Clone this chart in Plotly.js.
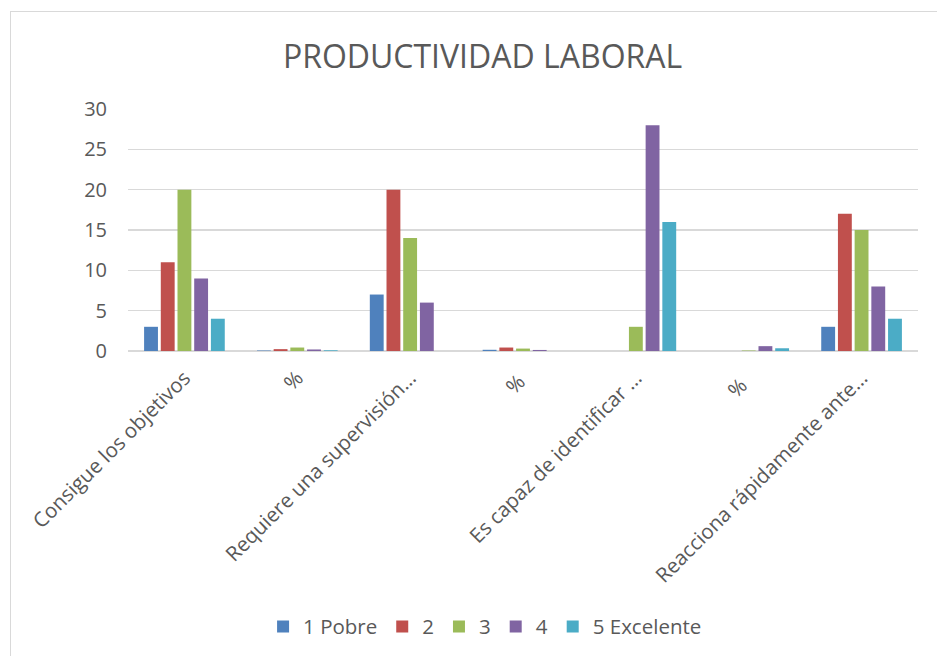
<!DOCTYPE html>
<html>
<head>
<meta charset="utf-8">
<script src="https://cdn.plot.ly/plotly-3.0.1.min.js"></script>
<style>
  html, body { margin: 0; padding: 0; background: #ffffff; overflow: hidden; }
  #chart { position: absolute; left: 0; top: 0; width: 937px; height: 656px; }
  #frame { position: absolute; left: 10px; top: 11px; width: 940px; height: 660px;
           border: 1.5px solid #d9d9d9; pointer-events: none; box-sizing: border-box; }
</style>
</head>
<body>
<div id="chart"></div>
<div id="frame"></div>
<script>
// Survey categories (the "%" rows hold each answer's share of the 47 responses)
const categories = [
  "Consigue los objetivos",
  "%",
  "Requiere una supervisión…",
  "% ",
  "Es capaz de identificar …",
  "%  ",
  "Reacciona rápidamente ante…"
];

const seriesNames = ["1 Pobre", "2", "3", "4", "5 Excelente"];

const pobre     = [3,  0.06, 7,  0.15, 0,  0,    3];
const dos       = [11, 0.23, 20, 0.43, 0,  0,    17];
const tres      = [20, 0.43, 14, 0.30, 3,  0.06, 15];
const cuatro    = [9,  0.19, 6,  0.13, 28, 0.60, 8];
const excelente = [4,  0.09, 0,  0,    16, 0.34, 4];

const seriesValues = [pobre, dos, tres, cuatro, excelente];
const colors = ["#4F81BD", "#C0504D", "#9BBB59", "#8064A2", "#4BACC6"];

const textColor = "#595959";
const fontFamily = "'Open Sans', 'Liberation Sans', sans-serif";

const traces = seriesValues.map((vals, i) => ({
  type: "bar",
  name: seriesNames[i],
  x: categories,
  y: vals,
  marker: { color: colors[i], line: { width: 0 } },
  hoverinfo: "x+y+name"
}));

const layout = {
  width: 937,
  height: 656,
  paper_bgcolor: "#ffffff",
  plot_bgcolor: "#ffffff",
  margin: { l: 128, r: 19, t: 109, b: 304 },
  barmode: "group",
  bargap: 0.26,
  bargroupgap: 0.17,
  title: {
    text: "PRODUCTIVIDAD LABORAL",
    font: { family: fontFamily, size: 32, color: textColor },
    x: 0.515,
    xanchor: "center",
    y: 0.913,
    yanchor: "middle"
  },
  xaxis: {
    type: "category",
    tickangle: -45,
    tickfont: { family: fontFamily, size: 20.5, color: textColor },
    showgrid: false,
    showline: false,
    ticks: "",
    zeroline: false,
    ticklabelstandoff: 10
  },
  yaxis: {
    range: [0, 30],
    dtick: 5,
    tick0: 0,
    tickfont: { family: fontFamily, size: 20, color: textColor },
    showgrid: true,
    gridcolor: "#d9d9d9",
    gridwidth: 1.5,
    zeroline: true,
    zerolinecolor: "#d9d9d9",
    zerolinewidth: 1.5,
    showline: false,
    ticks: "",
    ticklabelstandoff: 20
  },
  showlegend: true,
  legend: {
    orientation: "h",
    x: 0.452,
    xanchor: "center",
    y: -1.13,
    yanchor: "middle",
    font: { family: fontFamily, size: 20.5, color: textColor },
    itemwidth: 30,
    traceorder: "normal"
  }
};

Plotly.newPlot("chart", traces, layout, { displayModeBar: false, staticPlot: true });
</script>
</body>
</html>
